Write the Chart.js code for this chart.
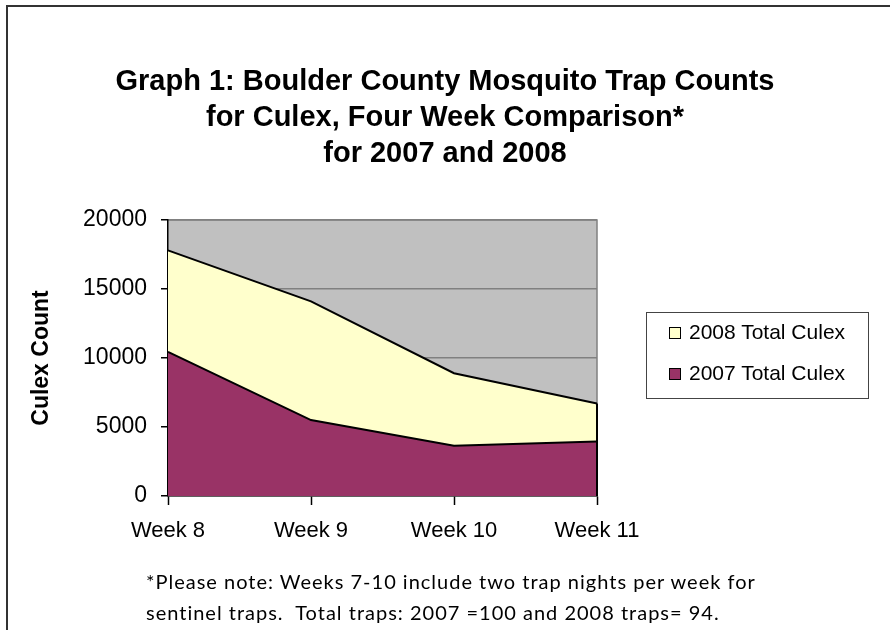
<!DOCTYPE html>
<html>
<head>
<meta charset="utf-8">
<script src="https://cdn.jsdelivr.net/npm/chart.js@4.4.1/dist/chart.umd.min.js"></script>
<style>
  html, body { margin: 0; padding: 0; background: #fff; }
  #wrap { position: relative; width: 890px; height: 630px; overflow: hidden; }
  #frame { position: absolute; left: 6px; top: 5px; width: 900px; height: 640px;
           border-left: 2px solid #333; border-top: 2px solid #333; }
  #title { position: absolute; left: 0; top: 62px; width: 890px; text-align: center;
           font: bold 29px "Liberation Sans", Arial, sans-serif; line-height: 36px; color: #000; }
  #legend { position: absolute; left: 646px; top: 312px; width: 221px; height: 85px;
            border: 1px solid #444; font: 21px "Liberation Sans", Arial, sans-serif; }
  .item { position: absolute; left: 22px; height: 24px; line-height: 24px; white-space: nowrap; }
  .swatch { display: inline-block; width: 10px; height: 10px; border: 1.5px solid #000;
            margin-right: 8px; vertical-align: 0px; }
  #note { position: absolute; left: 146px; top: 566px; font: 20px Lato, sans-serif;
          letter-spacing: 1px; line-height: 31px; white-space: pre; color: #000; }
  canvas { position: absolute; left: 0; top: 0; }
</style>
</head>
<body>
<div id="wrap">
  <canvas id="chart" width="890" height="630"></canvas>
  <div id="frame"></div>
  <div id="title">Graph 1: Boulder County Mosquito Trap Counts<br>for Culex, Four Week Comparison*<br>for 2007 and 2008</div>
  <div id="legend"></div>
  <div id="note">*Please note: Weeks 7-10 include two trap nights per week for
sentinel traps.  Total traps: 2007 =100 and 2008 traps= 94.</div>
</div>
<script>
// Date
const weeks = ["Week 8", "Week 9", "Week 10", "Week 11"];
const culex2007 = [10450, 5500, 3650, 3950];
const culex2008 = [17800, 14100, 8900, 6700];
const yTicks = [0, 5000, 10000, 15000, 20000];

const seriesNames = ["2007 Total Culex", "2008 Total Culex"];
const seriesColors = ["#993366", "#FFFFCC"];

// Fundal gri pentru zona graficului
const plotBackground = {
  id: "plotBackground",
  beforeDraw(chart) {
    const { ctx, chartArea: a } = chart;
    ctx.save();
    ctx.fillStyle = "#C0C0C0";
    ctx.fillRect(a.left, a.top, a.right - a.left, a.bottom - a.top);
    ctx.strokeStyle = "#808080";
    ctx.lineWidth = 1.5;
    ctx.beginPath();
    ctx.moveTo(a.left, a.top);
    ctx.lineTo(a.right, a.top);
    ctx.lineTo(a.right, a.bottom);
    ctx.stroke();
    ctx.restore();
  },
  afterDatasetsDraw(chart) {
    // marginea dreapta a ariei, ca in Excel
    const { ctx, scales } = chart;
    const last = weeks.length - 1;
    const x = scales.x.getPixelForValue(last);
    const top = Math.max(culex2007[last], culex2008[last]);
    ctx.save();
    ctx.strokeStyle = "#000";
    ctx.lineWidth = 2;
    ctx.beginPath();
    ctx.moveTo(x, scales.y.getPixelForValue(top));
    ctx.lineTo(x, scales.y.getPixelForValue(0));
    ctx.stroke();
    ctx.restore();
  }
};

const ctx = document.getElementById("chart").getContext("2d");
const chart = new Chart(ctx, {
  type: "line",
  data: {
    labels: weeks,
    datasets: [
      {
        label: seriesNames[0],
        data: culex2007,
        backgroundColor: seriesColors[0],
        borderColor: "#000",
        borderWidth: 2,
        fill: "origin",
        pointRadius: 0,
        tension: 0
      },
      {
        label: seriesNames[1],
        data: culex2008,
        backgroundColor: seriesColors[1],
        borderColor: "#000",
        borderWidth: 2,
        fill: "origin",
        pointRadius: 0,
        tension: 0
      }
    ]
  },
  options: {
    responsive: false,
    animation: false,
    layout: { padding: { left: 0, top: 220, right: 293, bottom: 84 } },
    plugins: {
      legend: { display: false },
      tooltip: { enabled: false }
    },
    scales: {
      x: {
        offset: false,
        afterFit(scale) { scale.height = 50; },
        grid: { drawOnChartArea: false, drawTicks: true, tickLength: 9, tickColor: "#000", tickWidth: 1.5 },
        border: { color: "#000", width: 1.5 },
        ticks: {
          color: "#000",
          padding: 13,
          maxRotation: 0,
          autoSkip: false,
          font: { family: "Liberation Sans, Arial", size: 22 }
        }
      },
      y: {
        min: 0,
        max: 20000,
        afterFit(scale) { scale.width = 168; },
        afterBuildTicks(scale) { scale.ticks = yTicks.map(v => ({ value: v })); },
        grid: { color: "#808080", lineWidth: 1.5, tickLength: 7, tickColor: "#000", tickWidth: 1.5 },
        border: { color: "#000", width: 1.5 },
        ticks: {
          color: "#000",
          padding: 14,
          font: { family: "Liberation Sans, Arial", size: 23 },
          callback: v => String(v)
        },
        title: {
          display: true,
          text: "Culex Count",
          color: "#000",
          padding: { top: 28, bottom: 0 },
          font: { family: "Liberation Sans, Arial", size: 23, weight: "bold" }
        }
      }
    }
  },
  plugins: [plotBackground]
});

// Legenda (2008 sus, 2007 jos)
const legend = document.getElementById("legend");
[1, 0].forEach((i, row) => {
  const div = document.createElement("div");
  div.className = "item";
  div.style.top = (7 + row * 41) + "px";
  const sw = document.createElement("span");
  sw.className = "swatch";
  sw.style.backgroundColor = seriesColors[i];
  div.appendChild(sw);
  div.appendChild(document.createTextNode(seriesNames[i]));
  legend.appendChild(div);
});
</script>
</body>
</html>
